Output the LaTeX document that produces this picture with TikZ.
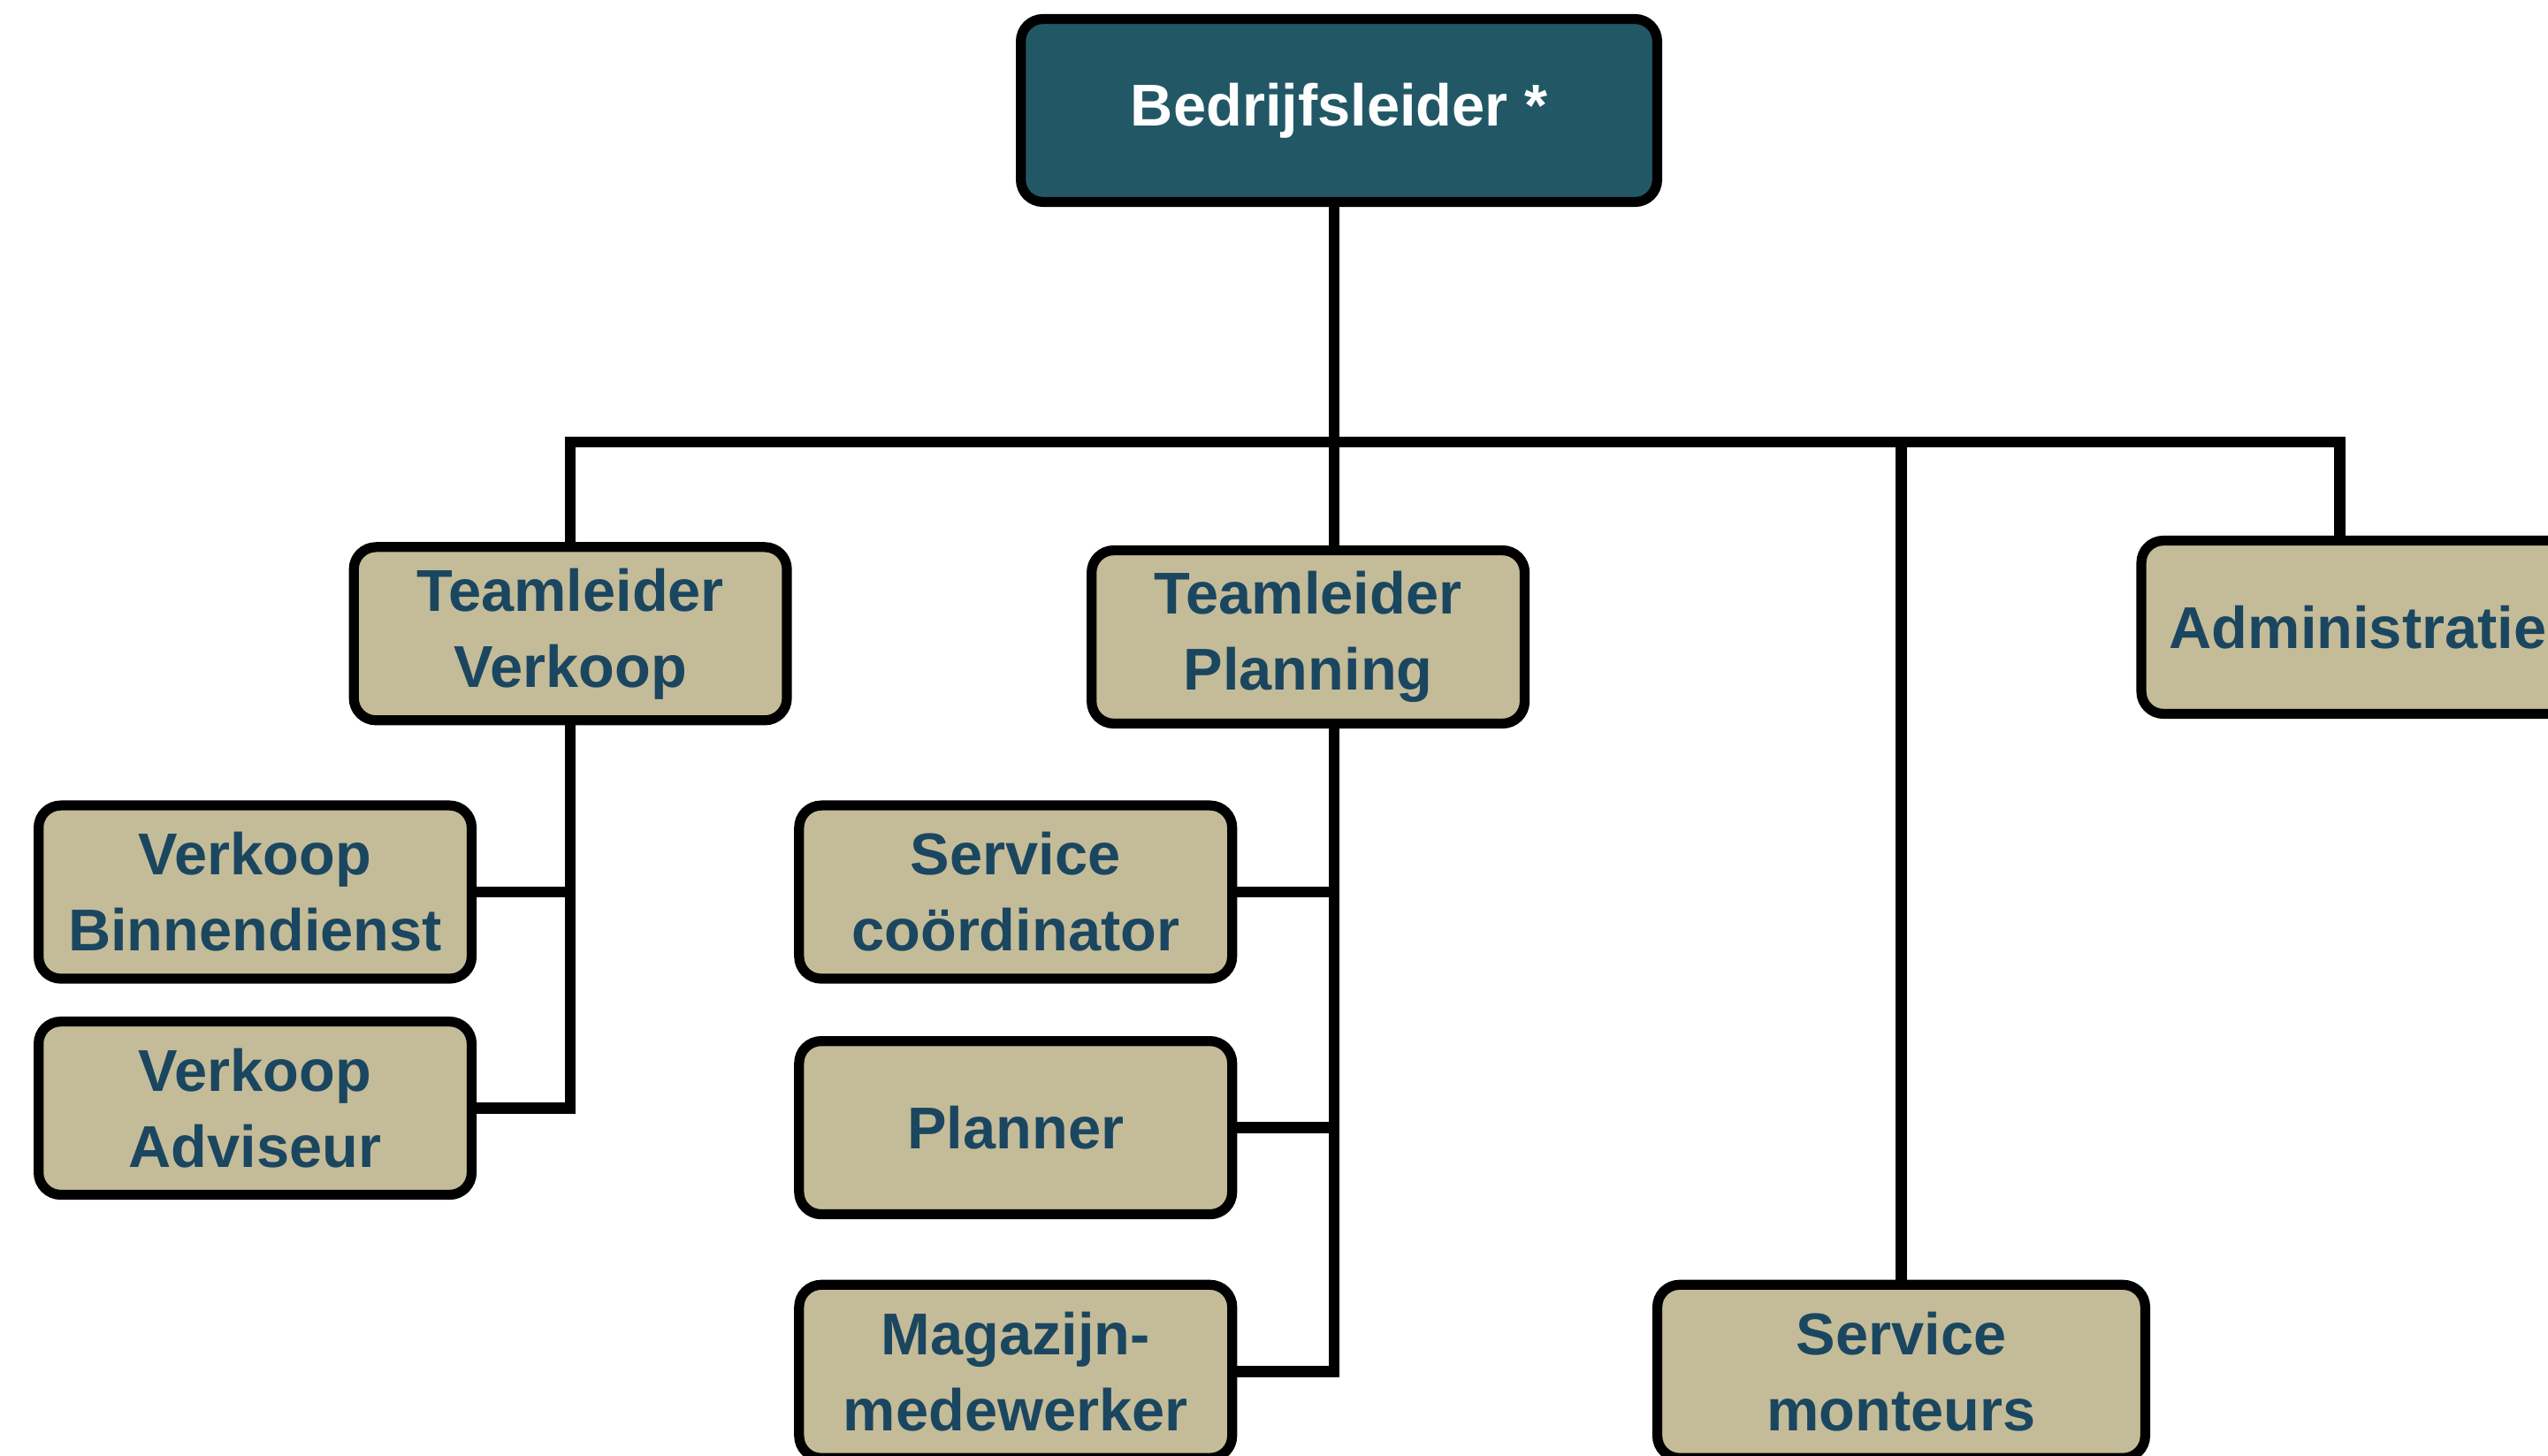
\documentclass[tikz,border=0pt]{standalone}
\usepackage{fontspec}
\setmainfont{Liberation Sans}
\usetikzlibrary{calc}
\definecolor{bossfill}{HTML}{225866}
\definecolor{boxtan}{HTML}{C4BC98}
\definecolor{boxtext}{HTML}{1B4660}

\begin{document}
\begin{tikzpicture}[x=0.01838cm,y=-0.01838cm,
	box/.style={draw=black, line width=3.2pt, rounded corners=0.25cm, fill=boxtan, text=boxtext,
		font=\fontsize{19}{24.5}\selectfont\bfseries, align=center,
		minimum width=4.9cm, minimum height=1.96cm, inner sep=0pt},
	boss/.style={box, fill=bossfill, text=white, minimum width=7.2cm, minimum height=2.07cm},
	conn/.style={line width=3.6pt}]
	\path[use as bounding box, clip] (0,0) rectangle (1568,896);
	% top and second row
	\node[boss] (boss) at (824,68) {Bedrijfsleider *};
	\node[box] (tlv) at (351,390) {Teamleider\\Verkoop};
	\node[box] (tlp) at (805,392) {Teamleider\\Planning};
	\node[box] (adm) at (1451,386) {Administratie};
	\coordinate (busr) at (1440,272);
	% sales
	\node[box] (vb) at (157,549) {Verkoop\\Binnendienst};
	\node[box] (va) at (157,682) {Verkoop\\Adviseur};
	% planning
	\node[box] (sc) at (625,549) {Service\\coördinator};
	\node[box] (pl) at (625,694) {Planner};
	\node[box] (mag) at (625,844) {Magazijn-\\medewerker};
	\node[box, minimum width=5.52cm] (sm) at (1170,844) {Service\\monteurs};
	% connectors
	\draw[conn] (boss.south) ++(-3,0) coordinate (down) -- (down |- tlp.north);
	\draw[conn] (tlv.north) |- (busr) -- (busr |- adm.north);
	\draw[conn] (sm.north) -- (sm.north |- busr);
	\draw[conn] (tlv.south) |- (va.east);
	\draw[conn] (vb.east) -- (vb.east -| tlv.south);
	\draw[conn] (down |- tlp.south) |- (mag.east);
	\draw[conn] (sc.east) -- (sc.east -| down);
	\draw[conn] (pl.east) -- (pl.east -| down);
\end{tikzpicture}
\end{document}
